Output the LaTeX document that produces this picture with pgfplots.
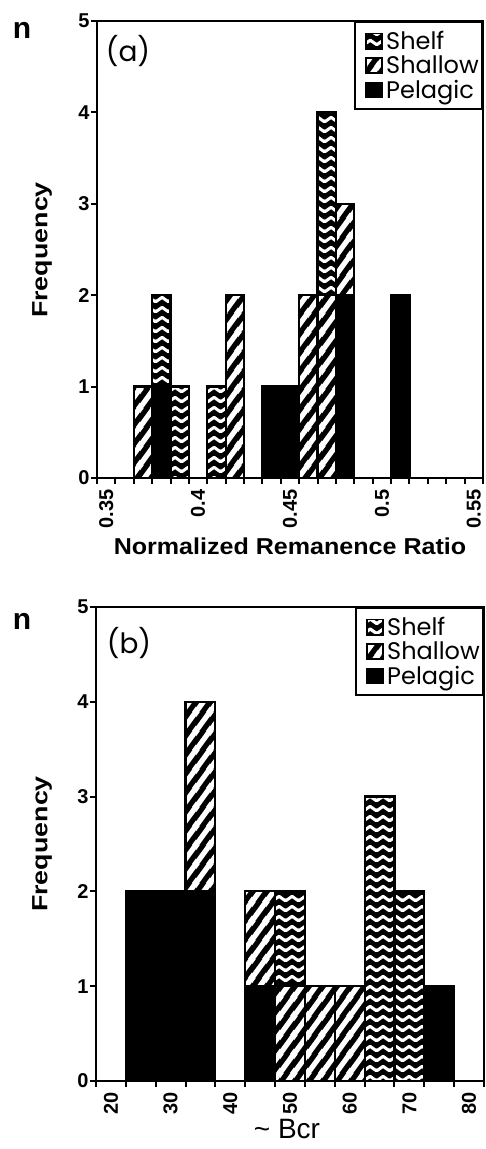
\documentclass[border=0pt]{standalone}
\usepackage{fontspec}
\setmainfont{Liberation Sans}
\newfontfamily\geofont{Poppins}
\usepackage{graphicx}
\usepackage{pgfplots}
\usepackage{pgfplotstable}
\pgfplotsset{compat=1.18}
\usetikzlibrary{patterns}

% white diagonal stripes (Shallow); lines extended beyond the cell so no seams
\pgfdeclarepatternformonly{shallowstripes}{\pgfqpoint{0bp}{0bp}}{\pgfqpoint{14bp}{19bp}}{\pgfqpoint{14bp}{19bp}}{%
  \pgfsetlinewidth{5.5bp}%
  \pgfpathmoveto{\pgfqpoint{-28bp}{-19bp}}\pgfpathlineto{\pgfqpoint{14bp}{38bp}}%
  \pgfpathmoveto{\pgfqpoint{-14bp}{-19bp}}\pgfpathlineto{\pgfqpoint{28bp}{38bp}}%
  \pgfpathmoveto{\pgfqpoint{0bp}{-19bp}}\pgfpathlineto{\pgfqpoint{42bp}{38bp}}%
  \pgfusepath{stroke}%
}
% white wavy zigzag (Shelf)
\pgfdeclarepatternformonly{shelfwave}{\pgfqpoint{0bp}{0bp}}{\pgfqpoint{13bp}{9.5bp}}{\pgfqpoint{13bp}{9.5bp}}{%
  \pgfsetlinewidth{3.2bp}%
  \pgfsetroundjoin
  \pgfpathmoveto{\pgfqpoint{-6.5bp}{7bp}}%
  \pgfpathlineto{\pgfqpoint{0bp}{2.5bp}}%
  \pgfpathlineto{\pgfqpoint{6.5bp}{7bp}}%
  \pgfpathlineto{\pgfqpoint{13bp}{2.5bp}}%
  \pgfpathlineto{\pgfqpoint{19.5bp}{7bp}}%
  \pgfusepath{stroke}%
}

% Panel (a): bins of normalized remanence ratio, 0.35 ... 0.55 step 0.01
\pgfplotstableread{
idx ratio pelagic shallow shelf
0  0.35 0 0 0
1  0.36 0 0 0
2  0.37 0 1 0
3  0.38 1 0 1
4  0.39 0 0 1
5  0.40 0 0 0
6  0.41 0 0 1
7  0.42 0 2 0
8  0.43 0 0 0
9  0.44 1 0 0
10 0.45 1 0 0
11 0.46 0 2 0
12 0.47 0 2 2
13 0.48 2 1 0
14 0.49 0 0 0
15 0.50 0 0 0
16 0.51 2 0 0
17 0.52 0 0 0
18 0.53 0 0 0
19 0.54 0 0 0
20 0.55 0 0 0
}\dataA

% Panel (b): bins of Bcr, 20 ... 80 step 5
\pgfplotstableread{
idx bcr pelagic shallow shelf
0  20 0 0 0
1  25 2 0 0
2  30 2 0 0
3  35 2 2 0
4  40 0 0 0
5  45 1 1 0
6  50 0 1 1
7  55 0 1 0
8  60 0 1 0
9  65 0 0 3
10 70 0 0 2
11 75 1 0 0
12 80 0 0 0
}\dataB

\pgfplotsset{
  legsq/.style={legend image code/.code={%
    \pgfpathmoveto{\pgfqpoint{0bp}{0bp}}\pgfpathlineto{\pgfqpoint{28bp}{0bp}}\pgfusepath{}%
    \draw[##1, line width=1.5bp] (10bp,-7.5bp) rectangle (26bp,7.5bp);}},
  pelbar/.style={draw=black, line width=2.2bp, fill=black, legsq},
  shalbar/.style={draw=black, line width=2.2bp, preaction={fill=black}, pattern=shallowstripes, pattern color=white, legsq},
  shelfbar/.style={draw=black, line width=2.2bp, preaction={fill=black}, pattern=shelfwave, pattern color=white, legsq},
  commonax/.style={
    scale only axis,
    ybar stacked, bar width=1,
    ymin=0, ymax=5, ytick={0,1,2,3,4,5}, minor ytick={0,1,2,3,4,5},
    major tick length=0bp, minor tick length=6bp,
    tick align=outside, xtick pos=left, ytick pos=left,
    tick style={black, line width=2bp},
    axis line style={line width=2.5bp},
    tick label style={font=\fontsize{20bp}{20bp}\selectfont\bfseries},
    /pgf/number format/assume math mode=true,
    xticklabel style={yshift=-8bp, rotate=90, anchor=east},
    yticklabel style={xshift=-4bp},
    legend style={at={(1,1)}, anchor=north east, draw=black, line width=2.5bp, fill=white,
      font=\geofont\fontsize{24bp}{24bp}\selectfont, inner xsep=1bp, inner ysep=7bp,
      row sep=1bp, /tikz/every even column/.append style={column sep=0bp}},
    legend cell align=left,
    reverse legend,
  }
}

\begin{document}
\begin{tikzpicture}[x=1bp,y=1bp]

% ---------- Panel (a)
\begin{axis}[commonax, anchor=south west, at={(97bp,671bp)}, width=386bp, height=457bp,
  xmin=-0.5, xmax=20.5, xtick={0,5,10,15,20}, xticklabels={0.35,0.4,0.45,0.5,0.55},
  minor xtick={-0.5,0.5,...,20.5}]
\addplot[pelbar] table[x=idx, y=pelagic]{\dataA};
\addlegendentry{Pelagic}
\addplot[shalbar] table[x=idx, y=shallow]{\dataA};
\addlegendentry{Shallow}
\addplot[shelfbar] table[x=idx, y=shelf]{\dataA};
\addlegendentry{Shelf}
\end{axis}

% ---------- Panel (b)
\begin{axis}[commonax, anchor=south west, at={(96bp,68bp)}, width=388bp, height=474bp,
  xmin=-0.5, xmax=12.5, xtick={0,2,4,6,8,10,12}, xticklabels={20,30,40,50,60,70,80},
  minor xtick={-0.5,0.5,...,12.5}]
\addplot[pelbar] table[x=idx, y=pelagic]{\dataB};
\addlegendentry{Pelagic}
\addplot[shalbar] table[x=idx, y=shallow]{\dataB};
\addlegendentry{Shallow}
\addplot[shelfbar] table[x=idx, y=shelf]{\dataB};
\addlegendentry{Shelf}
\end{axis}

% labels
\node[font=\bfseries\fontsize{30bp}{30bp}\selectfont] at (22bp,1119bp) {n};
\node[rotate=90, font=\bfseries\fontsize{22bp}{22bp}\selectfont] at (42bp,899bp) {\scalebox{1.22}[1]{Frequency}};
\node[anchor=base, font=\bfseries\fontsize{23bp}{23bp}\selectfont] at (290bp,594bp) {\scalebox{1.09}[1]{Normalized Remanence Ratio}};
\node[font=\geofont\fontsize{28bp}{28bp}\selectfont] at (128bp,1098bp) {(a)};

\node[font=\bfseries\fontsize{30bp}{30bp}\selectfont] at (22bp,528bp) {n};
\node[rotate=90, font=\bfseries\fontsize{22bp}{22bp}\selectfont] at (42bp,305bp) {\scalebox{1.22}[1]{Frequency}};
\node[anchor=base, font=\fontsize{28bp}{28bp}\selectfont] at (287bp,11bp) {\textasciitilde\ Bcr};
\node[font=\geofont\fontsize{28bp}{28bp}\selectfont] at (129bp,506bp) {(b)};

\pgfresetboundingbox
\path[use as bounding box] (0bp,0bp) rectangle (486bp,1149bp);
\end{tikzpicture}
\end{document}
